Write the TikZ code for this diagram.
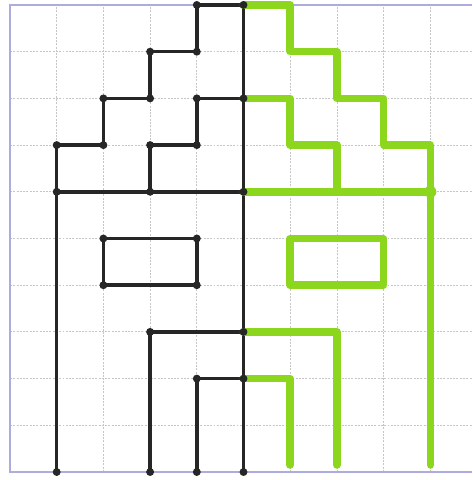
\documentclass[tikz,border=0pt]{standalone}
\begin{document}
\begin{tikzpicture}[x=1cm,y=1cm,
  gridline/.style={draw=gray!45, line width=0.5pt, dash pattern=on 1.2pt off 0.8pt},
  borderline/.style={draw=gray!55!blue!45, line width=1.1pt},
  blackline/.style={draw=black!85, line width=2.1pt, line join=round, line cap=round},
  greenline/.style={draw=limeg, line width=4.6pt, line join=round, line cap=round},
  bdot/.style={fill=black!85},
]
\definecolor{limeg}{RGB}{140,214,30}
\useasboundingbox (-0.214,-0.171) rectangle (9.893,10.107);
% grid
\foreach \i in {1,...,9} \draw[gridline] (\i,0) -- (\i,10);
\foreach \j in {1,...,9} \draw[gridline] (0,\j) -- (9.893,\j);
\draw[borderline] (9.893,10) -- (0,10) -- (0,0) -- (9.893,0);
% black half (rows counted from top: y = 10 - row)
\draw[blackline] (5,10) -- (5,0);
\draw[blackline] (5,10) -- (4,10) -- (4,9) -- (3,9) -- (3,8) -- (2,8) -- (2,7) -- (1,7) -- (1,0);
\draw[blackline] (5,8) -- (4,8) -- (4,7) -- (3,7) -- (3,6);
\draw[blackline] (1,6) -- (5,6);
\draw[blackline] (2,5) rectangle (4,4);
\draw[blackline] (5,3) -- (3,3) -- (3,0);
\draw[blackline] (5,2) -- (4,2) -- (4,0);
% green half
\draw[greenline] (5,10) -- (6,10) -- (6,9) -- (7,9) -- (7,8) -- (8,8) -- (8,7) -- (9,7) -- (9,0.15);
\draw[greenline] (5,8) -- (6,8) -- (6,7) -- (7,7) -- (7,6);
\draw[greenline] (5,6) -- (9,6);
\fill[limeg] (9,6) circle (0.13);
\draw[greenline] (6,5) rectangle (8,4);
\draw[greenline] (5,3) -- (7,3) -- (7,0.15);
\draw[greenline] (5,2) -- (6,2) -- (6,0.15);
% black dots
\foreach \p in {(4,10),(4,9),(3,9),(3,8),(2,8),(2,7),(1,7),(1,6),(3,6),
  (4,8),(4,7),(3,7),(2,5),(4,5),(2,4),(4,4),(3,3),(4,2),
  (1,0),(3,0),(4,0),(5,0),(5,10),(5,8),(5,6),(5,3),(5,2)}
  \fill[bdot] \p circle (0.085);
\end{tikzpicture}
\end{document}
